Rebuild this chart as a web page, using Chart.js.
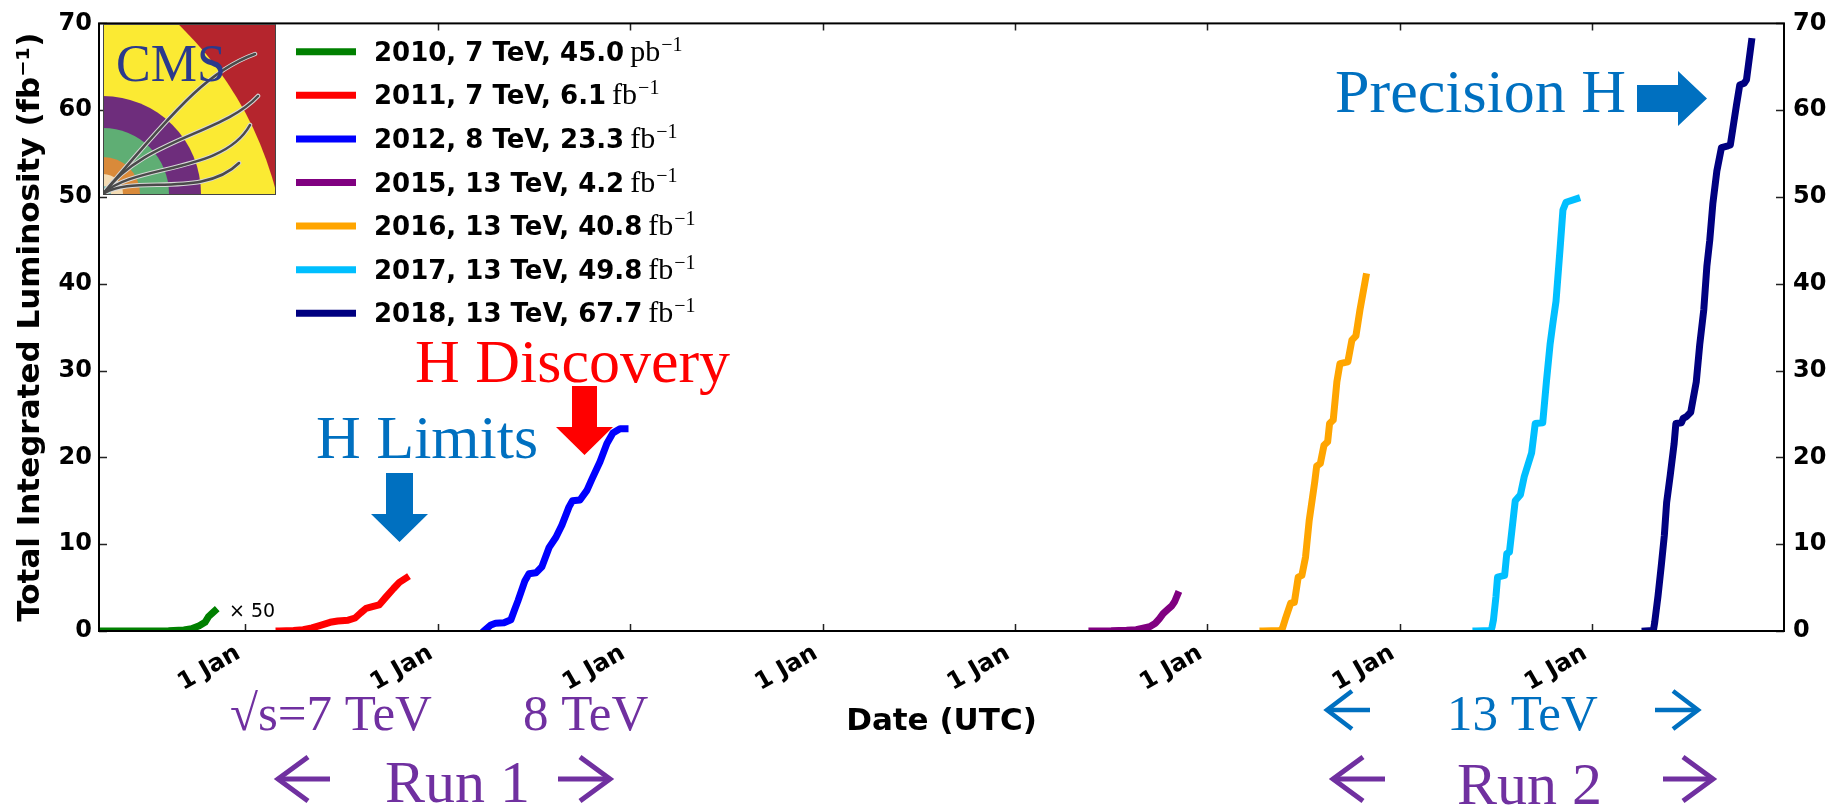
<!DOCTYPE html>
<html>
<head>
<meta charset="utf-8">
<script src="https://cdn.jsdelivr.net/npm/chart.js@4.4.0/dist/chart.umd.min.js"></script>
<style>
body { margin: 0; background: #fff; }
#wrap { width: 1831px; height: 806px; position: relative; }
</style>
</head>
<body>
<div id="wrap"><canvas id="mycanvas"></canvas></div>
<script>
// x values are decimal years, y values in fb^-1 (2010 curve is shown x50)
var xMin = 2010.239;
var xMax = 2018.997;
var yearTicks = [2011, 2012, 2013, 2014, 2015, 2016, 2017, 2018];
var tickLabel = '1 Jan';

var seriesNames = ['2010, 7 TeV, 45.0', '2011, 7 TeV, 6.1', '2012, 8 TeV, 23.3', '2015, 13 TeV, 4.2',
                   '2016, 13 TeV, 40.8', '2017, 13 TeV, 49.8', '2018, 13 TeV, 67.7'];
var seriesUnits = ['pb', 'fb', 'fb', 'fb', 'fb', 'fb', 'fb'];
var seriesColors = ['#008000', '#ff0000', '#0000ff', '#800080', '#ffa500', '#00bfff', '#000080'];

var dates2010 = [2010.24, 2010.45, 2010.60, 2010.68, 2010.72, 2010.76, 2010.79, 2010.81, 2010.825, 2010.84];
var lumi2010 = [0, 0.01, 0.04, 0.12, 0.25, 0.6, 1.0, 1.7, 2.0, 2.3];

var dates2011 = [2011.175, 2011.25, 2011.30, 2011.346, 2011.39, 2011.44, 2011.48, 2011.534, 2011.57, 2011.60,
                 2011.627, 2011.66, 2011.695, 2011.73, 2011.77, 2011.80, 2011.835];
var lumi2011 = [0, 0.05, 0.15, 0.35, 0.65, 1.0, 1.15, 1.25, 1.5, 2.1, 2.6, 2.8, 3.0, 3.9, 4.9, 5.6, 6.1];

var dates2012 = [2012.24, 2012.276, 2012.30, 2012.344, 2012.38, 2012.40, 2012.417, 2012.453, 2012.474, 2012.51,
                 2012.541, 2012.578, 2012.614, 2012.645, 2012.682, 2012.70, 2012.739, 2012.775, 2012.801,
                 2012.843, 2012.879, 2012.91, 2012.947, 2012.973];
var lumi2012 = [0, 0.7, 0.9, 0.95, 1.3, 2.5, 3.5, 5.8, 6.6, 6.7, 7.4, 9.6, 10.8, 12.2, 14.3, 15.0, 15.1, 16.2,
                17.5, 19.5, 21.6, 22.8, 23.3, 23.3];

var dates2015 = [2015.40, 2015.50, 2015.58, 2015.63, 2015.66, 2015.70, 2015.73, 2015.75, 2015.77, 2015.79,
                 2015.80, 2015.815, 2015.83, 2015.845];
var lumi2015 = [0, 0.02, 0.08, 0.15, 0.3, 0.5, 0.9, 1.4, 2.0, 2.4, 2.6, 2.9, 3.4, 4.2];

var dates2016 = [2016.289, 2016.377, 2016.39, 2016.404, 2016.433, 2016.452, 2016.472, 2016.491, 2016.51, 2016.529,
                 2016.558, 2016.568, 2016.587, 2016.606, 2016.625, 2016.635, 2016.654, 2016.673, 2016.689,
                 2016.73, 2016.751, 2016.772, 2016.793, 2016.824];
var lumi2016 = [0, 0.05, 0.3, 1.3, 3.2, 3.3, 6.2, 6.4, 8.5, 12.7, 17.2, 19.0, 19.3, 21.4, 21.8, 23.9, 24.3,
                28.7, 30.8, 31.0, 33.5, 34.0, 37.0, 40.8];

var dates2017 = [2017.396, 2017.474, 2017.48, 2017.487, 2017.50, 2017.508, 2017.545, 2017.556, 2017.57, 2017.60,
                 2017.627, 2017.647, 2017.685, 2017.704, 2017.743, 2017.762, 2017.781, 2017.796, 2017.812,
                 2017.833, 2017.848, 2017.864, 2017.92];
var lumi2017 = [0, 0.05, 0.5, 1.3, 4.0, 6.2, 6.4, 8.9, 9.1, 15.0, 15.7, 17.8, 20.5, 23.9, 24.0, 28.7, 33.0,
                35.5, 38.0, 44.0, 48.5, 49.4, 49.8];

var dates2018 = [2018.275, 2018.318, 2018.325, 2018.342, 2018.359, 2018.375, 2018.387, 2018.406, 2018.426,
                 2018.435, 2018.464, 2018.473, 2018.49, 2018.512, 2018.541, 2018.559, 2018.58, 2018.596,
                 2018.611, 2018.627, 2018.648, 2018.672, 2018.706, 2018.718, 2018.732, 2018.75, 2018.767,
                 2018.79, 2018.802, 2018.828];
var lumi2018 = [0, 0.05, 1.0, 4.0, 7.5, 11.0, 14.8, 18.0, 21.6, 23.9, 24.0, 24.5, 24.7, 25.2, 28.7, 33.0, 37.0,
                42.0, 45.0, 49.2, 53.0, 55.7, 55.9, 56.0, 58.0, 60.6, 62.9, 63.1, 63.5, 67.9];

var allDates = [dates2010, dates2011, dates2012, dates2015, dates2016, dates2017, dates2018];
var allLumi = [lumi2010, lumi2011, lumi2012, lumi2015, lumi2016, lumi2017, lumi2018];

var blue = '#0070c0';
var purple = '#7030a0';
var serif = '"Liberation Serif", "Times New Roman", serif';
var sans = '"DejaVu Sans", sans-serif';

var datasets = [];
for (var i = 0; i < allDates.length; i++) {
	var pts = [];
	for (var j = 0; j < allDates[i].length; j++) {
		pts.push({x: allDates[i][j], y: allLumi[i][j]});
	}
	datasets.push({
		label: seriesNames[i],
		data: pts,
		borderColor: seriesColors[i],
		backgroundColor: seriesColors[i],
		fill: false
	});
}

function arrowDown(ctx, cx, top, shaftW, headTop, headW, tip, color) {
	ctx.fillStyle = color;
	ctx.beginPath();
	ctx.moveTo(cx - shaftW / 2, top);
	ctx.lineTo(cx + shaftW / 2, top);
	ctx.lineTo(cx + shaftW / 2, headTop);
	ctx.lineTo(cx + headW / 2, headTop);
	ctx.lineTo(cx, tip);
	ctx.lineTo(cx - headW / 2, headTop);
	ctx.lineTo(cx - shaftW / 2, headTop);
	ctx.closePath();
	ctx.fill();
}

function arrowRight(ctx, left, cy, shaftH, headLeft, headH, tip, color) {
	ctx.fillStyle = color;
	ctx.beginPath();
	ctx.moveTo(left, cy - shaftH / 2);
	ctx.lineTo(headLeft, cy - shaftH / 2);
	ctx.lineTo(headLeft, cy - headH / 2);
	ctx.lineTo(tip, cy);
	ctx.lineTo(headLeft, cy + headH / 2);
	ctx.lineTo(headLeft, cy + shaftH / 2);
	ctx.lineTo(left, cy + shaftH / 2);
	ctx.closePath();
	ctx.fill();
}

// thin arrow, tip at x1, tail at x2
function thinArrow(ctx, x1, x2, y, hw, hh, lw, color) {
	var d = x2 > x1 ? 1 : -1;
	ctx.strokeStyle = color;
	ctx.lineWidth = lw;
	ctx.lineCap = 'butt';
	ctx.lineJoin = 'miter';
	ctx.beginPath();
	ctx.moveTo(x1 + d * 2, y);
	ctx.lineTo(x2, y);
	ctx.stroke();
	ctx.beginPath();
	ctx.moveTo(x1 + d * hw, y - hh);
	ctx.lineTo(x1, y);
	ctx.lineTo(x1 + d * hw, y + hh);
	ctx.stroke();
}

function drawLogo(ctx) {
	var x0 = 103, y0 = 24, w = 172, h = 170;
	var cx = x0, cy = y0 + h;
	ctx.save();
	ctx.beginPath();
	ctx.rect(x0, y0, w, h);
	ctx.clip();
	ctx.fillStyle = '#b5252d';
	ctx.fillRect(x0, y0, w, h);
	ctx.fillStyle = '#fbea33';
	ctx.beginPath();
	ctx.arc(x0 - 169, y0 + 255, 353, 0, Math.PI * 2);
	ctx.fill();
	var rings = [[98, '#6e2d7c'], [66, '#5fae74'], [37, '#d98a3a'], [20, '#f4dcb4'], [8, '#7cc0b8']];
	rings.forEach(function(r) {
		ctx.fillStyle = r[1];
		ctx.beginPath();
		ctx.arc(cx, cy, r[0], 0, Math.PI * 2);
		ctx.fill();
	});
	var tracks = [
		[[80, -95], [110, -125], [152, -140]],
		[[40, -55], [120, -60], [155, -98]],
		[[30, -30], [120, -20], [147, -69]],
		[[30, -20], [100, 5], [136, -31]]
	];
	[['#d8d8d8', 4.5], ['#4a4a4a', 2.5]].forEach(function(st) {
		ctx.strokeStyle = st[0];
		ctx.lineWidth = st[1];
		ctx.lineCap = 'round';
		tracks.forEach(function(t) {
			ctx.beginPath();
			ctx.moveTo(cx, cy);
			ctx.bezierCurveTo(cx + t[0][0], cy + t[0][1], cx + t[1][0], cy + t[1][1], cx + t[2][0], cy + t[2][1]);
			ctx.stroke();
		});
	});
	ctx.fillStyle = '#2b3a8c';
	ctx.font = '52px ' + serif;
	ctx.textAlign = 'left';
	ctx.textBaseline = 'alphabetic';
	ctx.fillText('CMS', x0 + 13, y0 + 57);
	ctx.restore();
	ctx.strokeStyle = '#444';
	ctx.lineWidth = 1;
	ctx.strokeRect(x0 + 0.5, y0 + 0.5, w, h);
}

var decor = {
	id: 'decor',
	afterDraw: function(chart) {
		var ctx = chart.ctx;
		var a = chart.chartArea;
		var sx = chart.scales.x, sy = chart.scales.y;
		ctx.save();

		// inward tick marks
		ctx.strokeStyle = '#222';
		ctx.lineWidth = 1.5;
		sx.ticks.forEach(function(t) {
			var px = Math.round(sx.getPixelForValue(t.value)) + 0.5;
			ctx.beginPath();
			ctx.moveTo(px, a.bottom); ctx.lineTo(px, a.bottom - 7);
			ctx.moveTo(px, a.top); ctx.lineTo(px, a.top + 7);
			ctx.stroke();
		});
		sy.ticks.forEach(function(t) {
			var py = Math.round(sy.getPixelForValue(t.value)) + 0.5;
			ctx.beginPath();
			ctx.moveTo(a.left, py); ctx.lineTo(a.left + 8, py);
			ctx.moveTo(a.right, py); ctx.lineTo(a.right - 8, py);
			ctx.stroke();
		});
		// frame
		ctx.strokeStyle = '#000';
		ctx.lineWidth = 2;
		ctx.strokeRect(a.left, a.top, a.right - a.left, a.bottom - a.top);

		drawLogo(ctx);

		// legend
		ctx.textAlign = 'left';
		ctx.textBaseline = 'alphabetic';
		chart.data.datasets.forEach(function(ds, i) {
			var cy = 51.7 + i * 43.6;
			ctx.strokeStyle = ds.borderColor;
			ctx.lineWidth = 7;
			ctx.lineCap = 'butt';
			ctx.beginPath();
			ctx.moveTo(296, cy); ctx.lineTo(356, cy);
			ctx.stroke();
			ctx.fillStyle = '#000';
			ctx.font = 'bold 26px ' + sans;
			ctx.fillText(ds.label, 374, cy + 9);
			var w1 = ctx.measureText(ds.label).width;
			ctx.font = '30px ' + serif;
			ctx.fillText(seriesUnits[i], 374 + w1 + 6, cy + 9);
			var w2 = ctx.measureText(seriesUnits[i]).width;
			ctx.font = '20px ' + serif;
			ctx.fillText('\u22121', 374 + w1 + 6 + w2 + 1, cy - 1);
		});

		// x50 note
		ctx.fillStyle = '#000';
		ctx.font = '19px ' + sans;
		ctx.fillText('\u00d7 50', 229, 617);

		// annotations
		ctx.font = '62px ' + serif;
		ctx.fillStyle = blue;
		ctx.fillText('Precision H', 1335, 112);
		ctx.fillText('H Limits', 316, 458);
		ctx.fillStyle = '#ff0000';
		ctx.fillText('H Discovery', 415, 382);
		arrowRight(ctx, 1637, 98.5, 27, 1678, 55, 1707, blue);
		arrowDown(ctx, 584.5, 386, 25, 427, 57, 455, '#ff0000');
		arrowDown(ctx, 399.5, 473, 27, 514, 57, 542, blue);

		// energies and runs below the axis
		ctx.font = '51px ' + serif;
		ctx.fillStyle = purple;
		ctx.fillText('\u221as=7 TeV', 230, 730);
		ctx.fillText('8 TeV', 523, 730);
		ctx.fillStyle = blue;
		ctx.fillText('13 TeV', 1447, 730);
		ctx.font = '60px ' + serif;
		ctx.fillStyle = purple;
		ctx.fillText('Run 1', 385, 802);
		ctx.fillText('Run 2', 1457, 804);

		thinArrow(ctx, 1327, 1370, 710, 25, 19, 4.5, blue);
		thinArrow(ctx, 1698, 1655, 710, 25, 19, 4.5, blue);
		thinArrow(ctx, 278, 330, 779, 30, 22, 5, purple);
		thinArrow(ctx, 610, 558, 779, 30, 22, 5, purple);
		thinArrow(ctx, 1333, 1385, 779, 30, 22, 5, purple);
		thinArrow(ctx, 1713, 1663, 779, 30, 22, 5, purple);

		ctx.restore();
	}
};

var tickFont = {family: 'DejaVu Sans', weight: 'bold', size: 24};
var titleFont = {family: 'DejaVu Sans', weight: 'bold', size: 31};

var ctx = document.getElementById('mycanvas');
var lumiChart = new Chart(ctx, {
	type: 'line',
	data: {datasets: datasets},
	options: {
		animation: false,
		responsive: true,
		maintainAspectRatio: false,
		devicePixelRatio: 1,
		layout: {padding: {top: 18, left: 0, right: 0, bottom: 0}},
		plugins: {
			legend: {display: false},
			tooltip: {enabled: false}
		},
		elements: {
			point: {radius: 0, hoverRadius: 0},
			line: {tension: 0, borderWidth: 7, borderCapStyle: 'square', borderJoinStyle: 'round'}
		},
		scales: {
			x: {
				type: 'linear',
				position: 'bottom',
				min: xMin,
				max: xMax,
				afterBuildTicks: function(scale) {
					scale.ticks = yearTicks.map(function(v) { return {value: v}; });
				},
				afterFit: function(scale) { scale.height = 175; },
				grid: {display: false, drawTicks: false},
				border: {display: false},
				ticks: {
					autoSkip: false,
					minRotation: 30,
					maxRotation: 30,
					padding: 8,
					labelOffset: -7,
					color: '#000',
					font: tickFont,
					callback: function() { return tickLabel; }
				},
				title: {
					display: true,
					text: 'Date (UTC)',
					color: '#000',
					font: titleFont,
					padding: {top: 0, bottom: 65}
				}
			},
			y: {
				position: 'left',
				min: 0,
				max: 70,
				afterFit: function(scale) { scale.width = 99; },
				grid: {display: false, drawTicks: false},
				border: {display: false},
				ticks: {stepSize: 10, padding: 7, color: '#000', font: tickFont},
				title: {
					display: true,
					text: 'Total Integrated Luminosity (fb\u207b\u00b9)',
					color: '#000',
					font: titleFont,
					padding: {top: 12, bottom: 0}
				}
			},
			y2: {
				position: 'right',
				min: 0,
				max: 70,
				afterFit: function(scale) { scale.width = 47; },
				grid: {display: false, drawTicks: false},
				border: {display: false},
				ticks: {stepSize: 10, padding: 9, color: '#000', font: tickFont}
			}
		}
	},
	plugins: [decor]
});
</script>
</body>
</html>
